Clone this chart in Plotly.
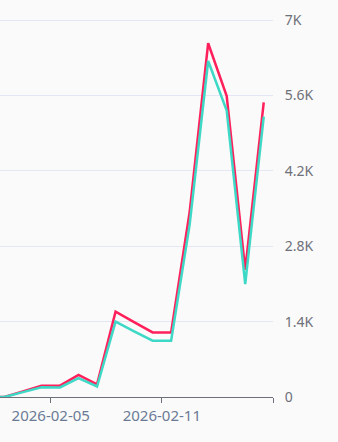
import plotly.graph_objects as go

dates = ["2026-02-01 12:00", "2026-02-02 12:00", "2026-02-03 12:00", "2026-02-04 12:00",
         "2026-02-05 12:00", "2026-02-06 12:00", "2026-02-07 12:00", "2026-02-08 12:00",
         "2026-02-09 12:00", "2026-02-10 12:00", "2026-02-11 12:00", "2026-02-12 12:00",
         "2026-02-13 12:00", "2026-02-14 12:00", "2026-02-15 12:00", "2026-02-16 12:00"]
series_red = [0, 0, 105, 210, 210, 410, 235, 1585, 1390, 1200, 1200, 3435, 6570, 5590, 2360, 5470]
series_teal = [0, 0, 90, 180, 178, 350, 195, 1400, 1220, 1045, 1045, 3200, 6240, 5320, 2095, 5205]
y_tickvals = [0, 1400, 2800, 4200, 5600, 7000]
y_ticktext = ["0", "1.4K", "2.8K", "4.2K", "5.6K", "7K"]
x_tickvals = ["2026-02-05", "2026-02-11", "2026-02-17"]
x_ticktext = ["2026-02-05", "2026-02-11", ""]

fig = go.Figure()
fig.add_trace(go.Scatter(x=dates, y=series_red, mode="lines",
                         line=dict(color="#ff1f5b", width=2.5), showlegend=False))
fig.add_trace(go.Scatter(x=dates, y=series_teal, mode="lines",
                         line=dict(color="#3ed9c6", width=2.5), showlegend=False))

fig.update_layout(
    width=338, height=442,
    margin=dict(l=0, r=65, t=19, b=45),
    paper_bgcolor="#fafafa", plot_bgcolor="#fafafa",
    font=dict(family="Noto Sans, sans-serif", size=14, color="#6e7079"),
    xaxis=dict(type="date", range=["2026-02-02 06:15", "2026-02-17 00:00"],
               tickvals=x_tickvals, ticktext=x_ticktext,
               ticks="outside", ticklen=5, tickcolor="#6e7079",
               showline=True, linecolor="#6e7079", linewidth=1,
               showgrid=False, zeroline=False,
               tickfont=dict(color="#6a7a96", size=15)),
    yaxis=dict(side="right", range=[0, 7020],
               tickvals=y_tickvals, ticktext=y_ticktext,
               showgrid=True, gridcolor="#e3e6f3", gridwidth=1,
               zeroline=False, showline=False,
               ticks="outside", ticklen=8, tickcolor="rgba(0,0,0,0)",
               tickfont=dict(color="#6e7079", size=14)),
)

fig.write_html("out.html")
